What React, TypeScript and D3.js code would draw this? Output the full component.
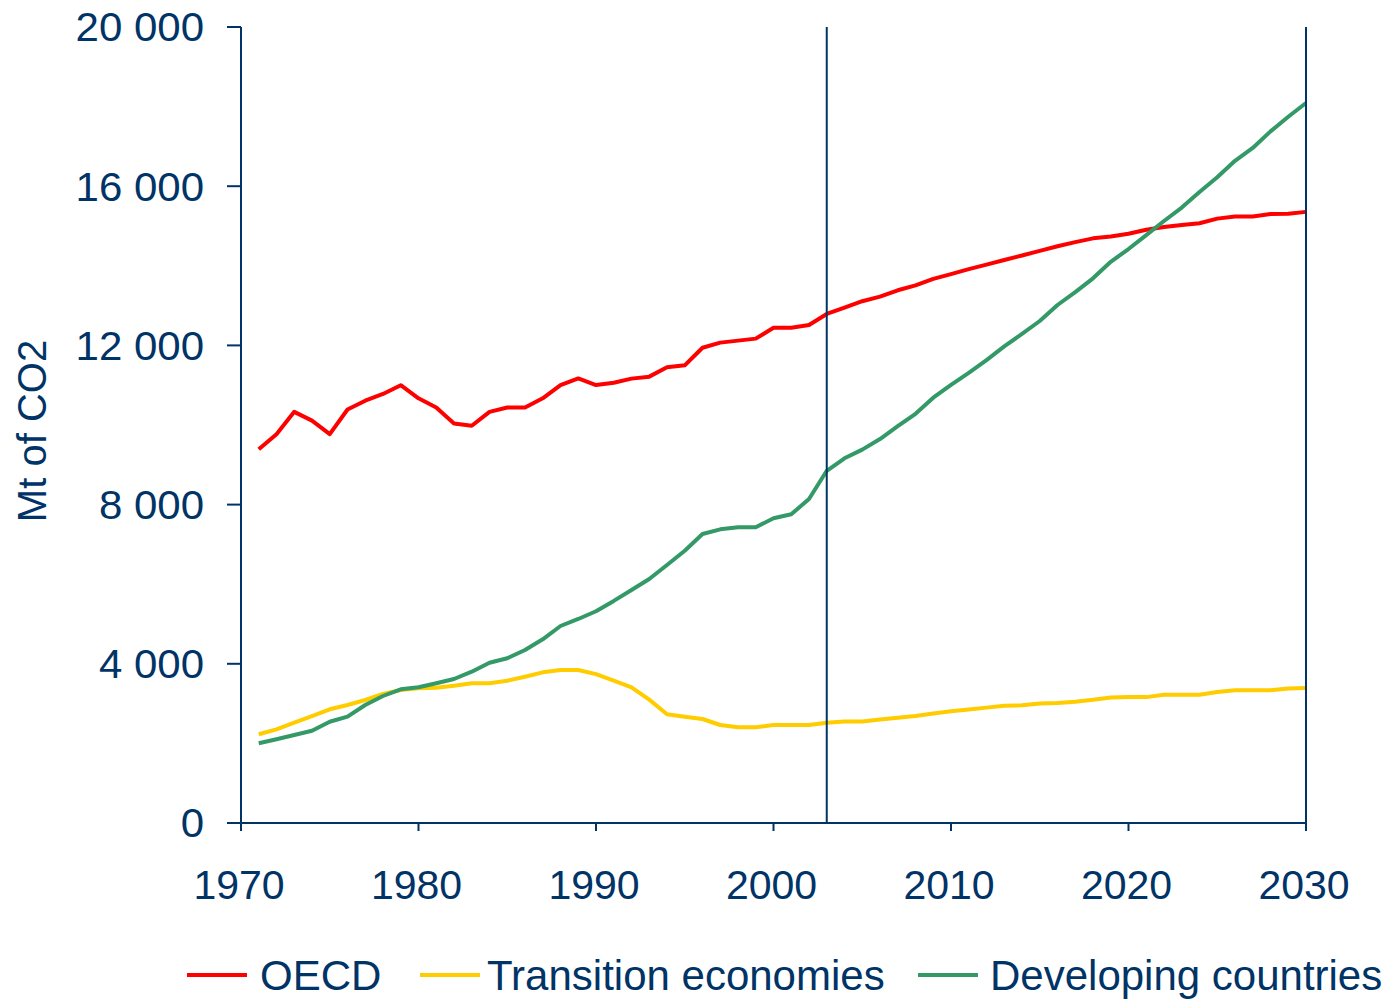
import React from "react";
import { scaleLinear, line, range } from "d3";

const years = range(1971, 2031);

const oecd = [
  9390, 9770, 10330, 10110, 9770, 10390, 10610, 10780, 11000, 10670,
  10440, 10040, 9980, 10330, 10440, 10440, 10670, 11000, 11170, 11005,
  11060, 11165, 11215, 11450, 11500, 11940, 12070, 12120, 12170, 12445,
  12445, 12513, 12790, 12950, 13110, 13225, 13385, 13510, 13670, 13790,
  13915, 14030, 14145, 14260, 14375, 14490, 14595, 14690, 14735, 14805,
  14905, 14975, 15025, 15070, 15185, 15240, 15240, 15300, 15310, 15355,
];

const transition = [
  2229, 2354, 2520, 2688, 2857, 2965, 3090, 3241, 3342, 3384,
  3399, 3450, 3510, 3510, 3575, 3676, 3786, 3844, 3844, 3740,
  3575, 3410, 3100, 2731, 2671, 2613, 2462, 2405, 2405, 2462,
  2462, 2462, 2518, 2553, 2553, 2598, 2646, 2691, 2749, 2807,
  2852, 2899, 2945, 2957, 3003, 3015, 3048, 3095, 3153, 3163,
  3163, 3221, 3221, 3221, 3291, 3337, 3337, 3337, 3382, 3394,
];

const developing = [
  2003, 2103, 2211, 2319, 2545, 2671, 2965, 3191, 3359, 3410,
  3510, 3618, 3802, 4028, 4138, 4347, 4616, 4950, 5126, 5320,
  5580, 5854, 6131, 6482, 6842, 7261, 7379, 7430, 7430, 7656,
  7756, 8141, 8850, 9163, 9382, 9648, 9970, 10281, 10686, 11008,
  11309, 11631, 11977, 12289, 12613, 13015, 13339, 13686, 14101, 14422,
  14769, 15126, 15462, 15854, 16224, 16638, 16960, 17377, 17746, 18090,
];

const xTicks = [1970, 1980, 1990, 2000, 2010, 2020, 2030];
const yTicks = [0, 4000, 8000, 12000, 16000, 20000];
const markerYear = 2003;

const series = [
  { name: "OECD", values: oecd, color: "#ff0000" },
  { name: "Transition economies", values: transition, color: "#ffcc00" },
  { name: "Developing countries", values: developing, color: "#339966" },
];

const navy = "#003366";
const font = "'Liberation Sans', Arial, sans-serif";

const fmt = (v: number) =>
  v === 0 ? "0" : String(v).replace(/\B(?=(\d{3})+(?!\d))/g, " ");

export default function App() {
  const width = 1399;
  const height = 999;

  const x = scaleLinear().domain([1970, 2030]).range([241, 1306]);
  const y = scaleLinear().domain([0, 20000]).range([823, 27]);

  const makeLine = (vals: number[]) =>
    line<number>()
      .x((d, i) => x(years[i]))
      .y((d) => y(d))(vals) || "";

  // legend layout (line sample + label)
  const legend = [
    { lx: 187, tx: 260 },
    { lx: 420, tx: 487 },
    { lx: 918, tx: 990 },
  ];

  return (
    <div style={{ position: "absolute", left: 0, top: 0 }}>
      <svg width={width} height={height} style={{ display: "block" }}>
        <rect width={width} height={height} fill="#fff" />

        {/* series */}
        {series.map((s) => (
          <path
            key={s.name}
            d={makeLine(s.values)}
            fill="none"
            stroke={s.color}
            strokeWidth={4}
            strokeLinejoin="round"
          />
        ))}

        {/* 2003 marker */}
        <line
          x1={x(markerYear)}
          x2={x(markerYear)}
          y1={y(20000)}
          y2={y(0)}
          stroke={navy}
          strokeWidth={2}
        />

        {/* axes */}
        <line x1={x(1970)} x2={x(1970)} y1={y(20000)} y2={y(0)} stroke={navy} strokeWidth={2} />
        <line x1={x(2030)} x2={x(2030)} y1={y(20000)} y2={y(0)} stroke={navy} strokeWidth={2} />
        <line x1={x(1970)} x2={x(2030)} y1={y(0)} y2={y(0)} stroke={navy} strokeWidth={2} />

        {yTicks.map((t) => (
          <g key={t}>
            <line x1={x(1970) - 14} x2={x(1970)} y1={y(t)} y2={y(t)} stroke={navy} strokeWidth={2} />
            <text
              transform={`translate(204,${y(t)}) scale(1.05,1)`}
              dy="0.36em"
              textAnchor="end"
              fontFamily={font}
              fontSize={40}
              fill={navy}
            >
              {fmt(t)}
            </text>
          </g>
        ))}

        {xTicks.map((t) => (
          <g key={t}>
            <line x1={x(t)} x2={x(t)} y1={y(0)} y2={y(0) + 8} stroke={navy} strokeWidth={2} />
            <text
              x={x(t) - 2}
              y={899}
              textAnchor="middle"
              fontFamily={font}
              fontSize={41}
              fill={navy}
            >
              {t}
            </text>
          </g>
        ))}

        <text
          transform={`translate(46,${431}) rotate(-90)`}
          textAnchor="middle"
          fontFamily={font}
          fontSize={40}
          fill={navy}
        >
          Mt of CO2
        </text>

        {/* legend */}
        {series.map((s, i) => (
          <g key={s.name}>
            <line
              x1={legend[i].lx}
              x2={legend[i].lx + 60}
              y1={975}
              y2={975}
              stroke={s.color}
              strokeWidth={4}
            />
            <text
              x={legend[i].tx}
              y={990}
              fontFamily={font}
              fontSize={42}
              fill={navy}
            >
              {s.name}
            </text>
          </g>
        ))}
      </svg>
    </div>
  );
}
